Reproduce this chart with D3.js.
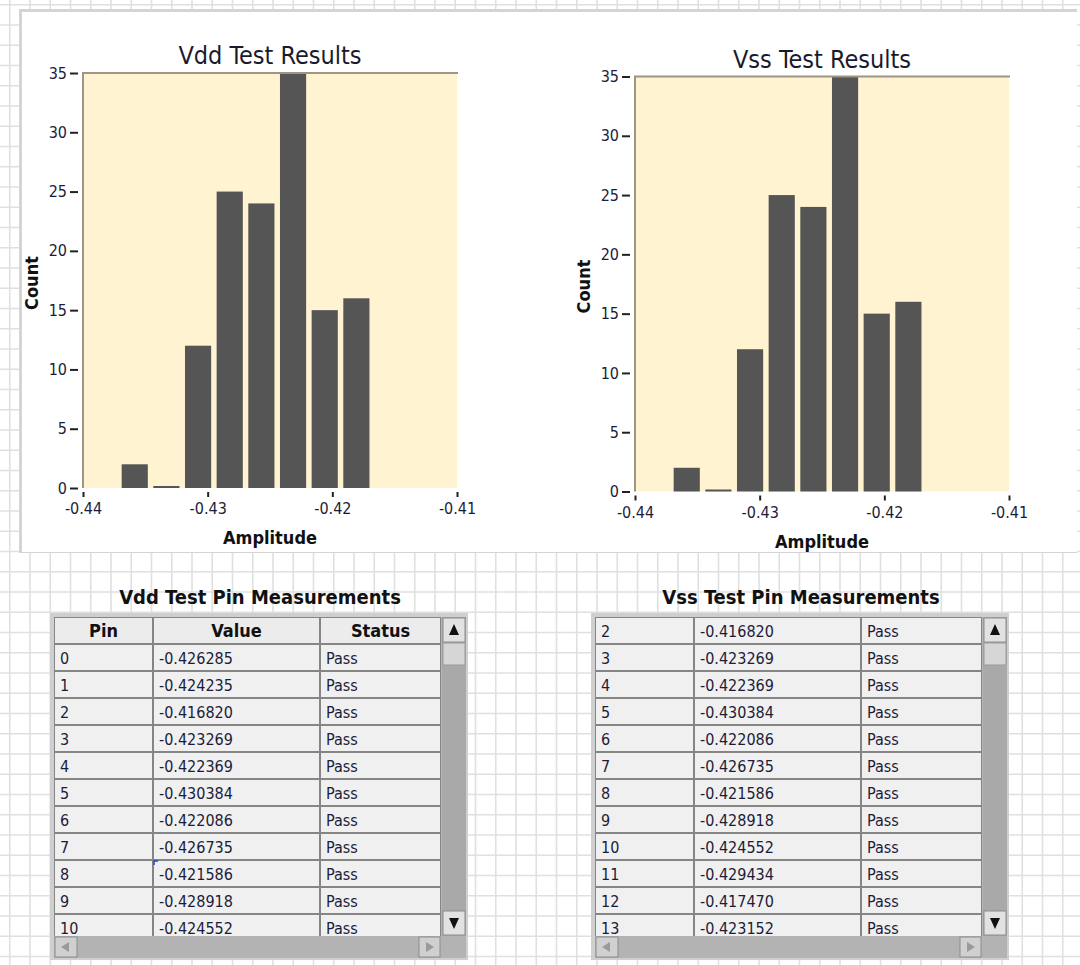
<!DOCTYPE html>
<html>
<head>
<meta charset="utf-8">
<script src="https://cdn.jsdelivr.net/npm/d3@7"></script>
<style>
  body { margin: 0; background: #fff; }
  svg { display: block; font-family: Tahoma, "DejaVu Sans Condensed", "DejaVu Sans", sans-serif; }
</style>
</head>
<body>
<div id="chart"></div>
<script>
// histogram data (both channels)
const amplitudeTicks = [-0.44, -0.43, -0.42, -0.41];
const countTicks = [0, 5, 10, 15, 20, 25, 30, 35];
const binStart = -0.4369;
const binWidth = 0.00254;
const vddCounts = [2, 0, 12, 25, 24, 35, 15, 16];
const vssCounts = [2, 0, 12, 25, 24, 35, 15, 16];

// table data (visible rows only)
const tableColumns = ['Pin', 'Value', 'Status'];
const vddPins = [0, 1, 2, 3, 4, 5, 6, 7, 8, 9, 10];
const vddValues = ['-0.426285', '-0.424235', '-0.416820', '-0.423269', '-0.422369', '-0.430384',
  '-0.422086', '-0.426735', '-0.421586', '-0.428918', '-0.424552'];
const vssPins = [2, 3, 4, 5, 6, 7, 8, 9, 10, 11, 12, 13];
const vssValues = ['-0.416820', '-0.423269', '-0.422369', '-0.430384', '-0.422086', '-0.426735',
  '-0.421586', '-0.428918', '-0.424552', '-0.429434', '-0.417470', '-0.423152'];
const statusText = 'Pass';

const width = 1080;
const height = 965;
const svg = d3.select('#chart').append('svg').attr('width', width).attr('height', height);

// background grid
const gridStep = 20.25;
const grid = svg.append('g').attr('stroke', '#e0e0e0').attr('stroke-width', 1.6);
grid.selectAll('line.v').data(d3.range(30 - gridStep, width, gridStep)).enter().append('line')
  .attr('x1', (d) => d).attr('x2', (d) => d).attr('y1', 0).attr('y2', height);
grid.selectAll('line.h').data(d3.range(25 - gridStep * 2, height, gridStep)).enter().append('line')
  .attr('y1', (d) => d).attr('y2', (d) => d).attr('x1', 0).attr('x2', width);

// white pane behind the graphs
svg.append('rect').attr('x', 19).attr('y', 9).attr('width', 1058).attr('height', 544).attr('fill', '#d4d4d4');
svg.append('rect').attr('x', 22).attr('y', 12).attr('width', 1055).attr('height', 540).attr('fill', '#fff');

function drawHistogram(counts, title, dx, dy) {
  const g = svg.append('g').attr('transform', `translate(${dx},${dy})`);
  const x = d3.scaleLinear().domain([-0.44, -0.41]).range([83, 457]);
  const y = d3.scaleLinear().domain([0, 35]).range([488, 73]);

  g.append('rect').attr('x', x(-0.44)).attr('y', y(35)).attr('width', x(-0.41) - x(-0.44))
    .attr('height', y(0) - y(35)).attr('fill', '#fff3d2');

  // bars
  const bins = counts.map((c, i) => ({ x0: binStart + i * binWidth, count: c }));
  g.selectAll('rect.bar').data(bins).enter().append('rect')
    .attr('class', 'bar')
    .attr('x', (d) => x(d.x0))
    .attr('width', (d) => x(d.x0 + binWidth) - x(d.x0) - 5.5)
    .attr('y', (d) => Math.min(y(d.count), y(0) - 2))
    .attr('height', (d) => Math.max(y(0) - y(d.count), 2))
    .attr('fill', '#555555');

  // plot frame (top + left)
  g.append('path').attr('d', `M${x(-0.44)},${y(0)}V${y(35)}H${x(-0.41) + 1}`)
    .attr('fill', 'none').attr('stroke', '#9d9585').attr('stroke-width', 2);

  const yAxis = g.append('g').attr('transform', 'translate(78,0)')
    .call(d3.axisLeft(y).tickValues(countTicks).tickSize(8).tickPadding(3));
  const xAxis = g.append('g').attr('transform', `translate(0,${y(0) + 2})`)
    .call(d3.axisBottom(x).tickValues(amplitudeTicks).tickSize(7).tickPadding(6).tickFormat((d) => d.toFixed(2)));
  [yAxis, xAxis].forEach((a) => {
    a.select('.domain').remove();
    a.selectAll('.tick line').attr('stroke', '#222').attr('stroke-width', 2);
    a.selectAll('.tick text').attr('fill', '#1c1c3a').style('font-size', '16px')
      .style('font-family', 'Tahoma, "DejaVu Sans Condensed", "DejaVu Sans", sans-serif');
  });
  xAxis.selectAll('.tick line').attr('y1', 2);

  g.append('text').attr('x', 270).attr('y', 64).attr('text-anchor', 'middle')
    .style('font-size', '25px').attr('fill', '#1a1a2e').text(title);
  g.append('text').attr('x', 270).attr('y', 544).attr('text-anchor', 'middle')
    .style('font-size', '18px').style('font-weight', 'bold').attr('fill', '#111').text('Amplitude');
  g.append('text').attr('transform', 'translate(38,283) rotate(-90)').attr('text-anchor', 'middle')
    .style('font-size', '18px').style('font-weight', 'bold').attr('fill', '#111').text('Count');
}

drawHistogram(vddCounts, 'Vdd Test Results', 0, 0);
drawHistogram(vssCounts, 'Vss Test Results', 552, 3.5);

// tables
function drawTable(title, pins, values, left, showHeader, id) {
  const g = svg.append('g').attr('transform', `translate(${left},0)`);
  const cols = [0, 99, 266, 387];
  const rowH = 27;
  const top = 617;
  const bottom = 936;

  g.append('text').attr('x', 206).attr('y', 604).attr('text-anchor', 'middle')
    .style('font-size', '20px').style('font-weight', 'bold').attr('fill', '#111').text(title);

  // frame
  g.append('rect').attr('x', -4).attr('y', 613).attr('width', 418).attr('height', 347).attr('fill', '#cfcfcf');
  g.append('rect').attr('x', 0).attr('y', top).attr('width', 412).attr('height', 341).attr('fill', '#b5b5b5');

  g.append('clipPath').attr('id', id).append('rect')
    .attr('x', 0).attr('y', top).attr('width', cols[3]).attr('height', bottom - top);
  const body = g.append('g').attr('clip-path', `url(#${id})`);

  const rows = pins.map((p, i) => ({ cells: [String(p), values[i], statusText], header: false }));
  if (showHeader) rows.unshift({ cells: tableColumns, header: true });

  const row = body.selectAll('g.row').data(rows).enter().append('g')
    .attr('transform', (d, i) => `translate(0,${top + i * rowH})`);
  row.selectAll('rect').data((d) => d.cells.map((c, j) => ({ c, j, header: d.header }))).enter().append('rect')
    .attr('x', (d) => cols[d.j]).attr('y', 0)
    .attr('width', (d) => cols[d.j + 1] - cols[d.j]).attr('height', rowH)
    .attr('fill', (d) => (d.header ? '#ececec' : '#f0f0f0'))
    .attr('stroke', '#858585').attr('stroke-width', 2);
  row.selectAll('text').data((d) => d.cells.map((c, j) => ({ c, j, header: d.header }))).enter().append('text')
    .attr('x', (d) => (d.header ? (cols[d.j] + cols[d.j + 1]) / 2 : cols[d.j] + 6))
    .attr('y', 19.5)
    .attr('text-anchor', (d) => (d.header ? 'middle' : 'start'))
    .style('font-size', (d) => (d.header ? '18px' : '16px'))
    .style('font-weight', (d) => (d.header ? 'bold' : 'normal'))
    .attr('fill', (d) => (d.header ? '#111' : '#1c1c3a'))
    .text((d) => d.c);

  // vertical scrollbar
  const sx = cols[3] + 1;
  g.append('rect').attr('x', sx).attr('y', top).attr('width', 24).attr('height', bottom - top).attr('fill', '#a9a9a9');
  const btn = (bx, by, w, h) => g.append('rect').attr('x', bx).attr('y', by).attr('width', w).attr('height', h)
    .attr('fill', '#e2e2e2').attr('stroke', '#8c8c8c').attr('stroke-width', 1);
  btn(sx + 1, top + 1, 22, 24);
  btn(sx + 1, bottom - 25, 22, 24);
  g.append('rect').attr('x', sx + 1).attr('y', top + 26).attr('width', 22).attr('height', 22)
    .attr('fill', '#d6d6d6').attr('stroke', '#9a9a9a');
  g.append('path').attr('d', `M${sx + 7},${top + 18}L${sx + 12},${top + 7}L${sx + 17},${top + 18}Z`).attr('fill', '#111');
  g.append('path').attr('d', `M${sx + 7},${bottom - 18}L${sx + 12},${bottom - 7}L${sx + 17},${bottom - 18}Z`).attr('fill', '#111');

  // horizontal scrollbar
  g.append('rect').attr('x', 0).attr('y', bottom).attr('width', 412).attr('height', 22).attr('fill', '#b3b3b3');
  btn(1, bottom + 1, 22, 20).attr('fill', '#d0d0d0');
  btn(cols[3] - 22, bottom + 1, 21, 20).attr('fill', '#d0d0d0');
  g.append('path').attr('d', `M7,${bottom + 11}L15,${bottom + 6}V${bottom + 16}Z`).attr('fill', '#9a9a9a');
  g.append('path').attr('d', `M${cols[3] - 7},${bottom + 11}L${cols[3] - 15},${bottom + 6}V${bottom + 16}Z`).attr('fill', '#9a9a9a');
}

drawTable('Vdd Test Pin Measurements', vddPins, vddValues, 54, true, 'clipVdd');
drawTable('Vss Test Pin Measurements', vssPins, vssValues, 595, false, 'clipVss');

// small selection marker in the Vdd table
svg.append('path').attr('d', 'M154,865V861H158').attr('fill', 'none').attr('stroke', '#2040e0').attr('stroke-width', 1.5);
</script>
</body>
</html>
